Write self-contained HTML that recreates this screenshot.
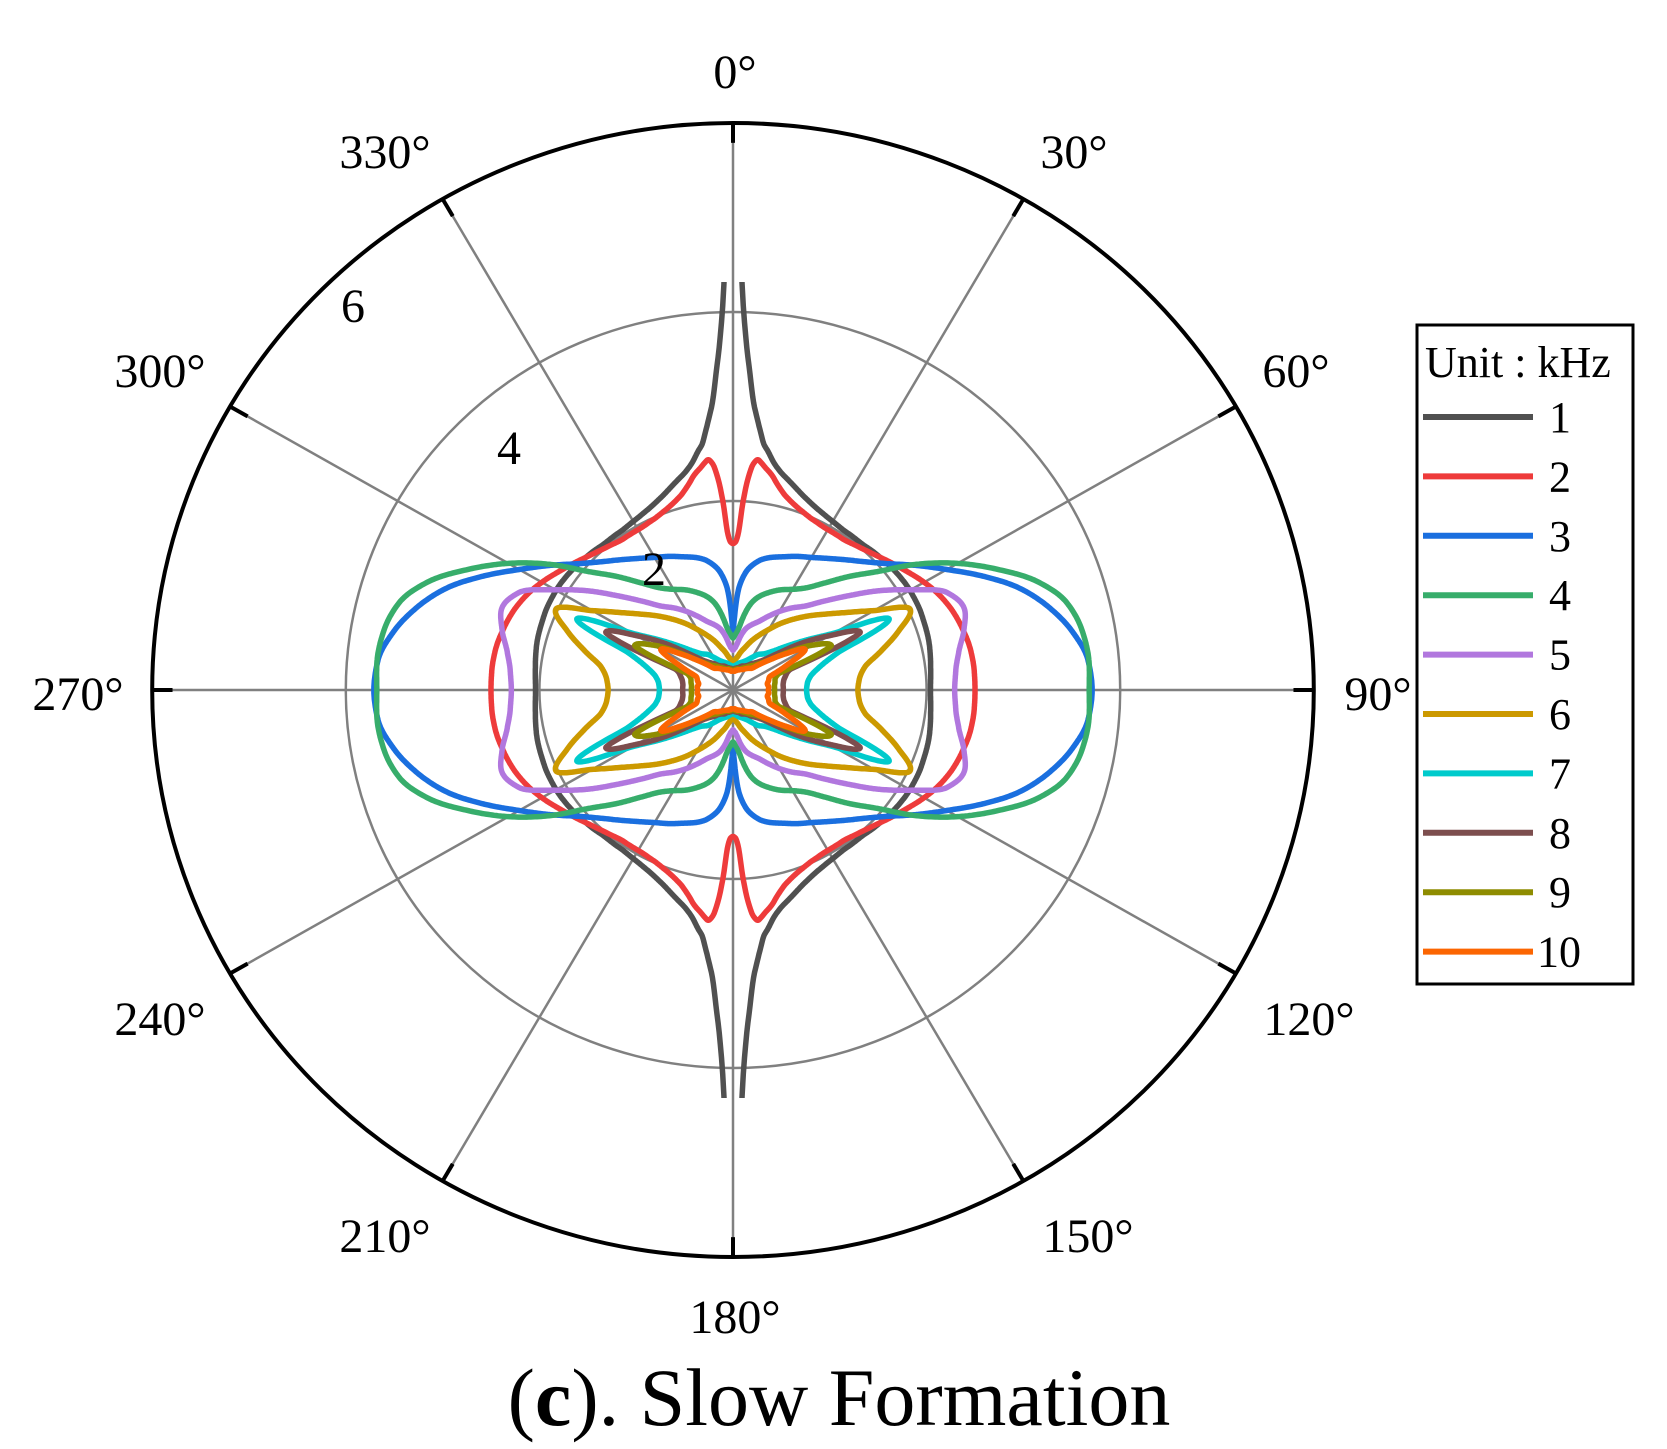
<!DOCTYPE html>
<html><head><meta charset="utf-8"><style>
html,body{margin:0;padding:0;background:#fff;overflow:hidden;width:1667px;height:1449px}
svg{display:block;font-family:"Liberation Serif",serif}
</style></head><body>
<svg id="chart" width="1667" height="1449" viewBox="0 0 1667 1449" xmlns="http://www.w3.org/2000/svg">
<defs><clipPath id="clipv"><rect x="0" y="282" width="1667" height="816"/></clipPath></defs>
<g id="grid"></g>
<g id="series" clip-path="url(#clipv)"></g>
<g id="labels" font-size="48" text-anchor="middle"></g>
<g id="legend">
<rect x="1417" y="325" width="216" height="659" fill="#fff" stroke="#000" stroke-width="3"/>
<text x="1425" y="377" font-size="44">Unit : kHz</text>
</g>
<text x="839" y="1425" font-size="82" text-anchor="middle">(<tspan font-weight="bold">c</tspan>). Slow Formation</text>
</svg>
<script>
const angles=[0,1,2,3,4,5,6,7,8,10,12,15,20,25,30,35,40,45,50,55,60,65,70,75,80,85,90];
const s1=[9,4.6,3.75,3.35,3.05,2.88,2.74,2.62,2.56,2.44,2.36,2.28,2.17,2.1,2.06,2.04,2.04,2.06,2.08,2.10,2.11,2.11,2.10,2.09,2.07,2.05,2.04];
const s2=[1.55,1.57,1.68,2.0,2.25,2.4,2.45,2.42,2.38,2.31,2.22,2.12,2.03,1.98,1.96,1.96,1.99,2.04,2.11,2.19,2.28,2.36,2.42,2.46,2.49,2.5,2.5];
const s3=[0.62,0.75,0.92,1.06,1.14,1.2,1.25,1.29,1.32,1.37,1.41,1.45,1.50,1.56,1.62,1.70,1.80,1.92,2.08,2.30,2.55,2.85,3.15,3.38,3.56,3.68,3.71];
const s4=[0.55,0.56,0.58,0.6,0.62,0.65,0.69,0.74,0.79,0.88,0.95,1.02,1.1,1.17,1.23,1.32,1.48,1.70,1.95,2.32,2.68,3.02,3.35,3.57,3.66,3.69,3.68];
const s5=[0.42,0.43,0.44,0.45,0.47,0.49,0.52,0.55,0.58,0.63,0.67,0.71,0.77,0.86,0.96,1.06,1.16,1.33,1.55,1.83,2.12,2.44,2.54,2.47,2.37,2.31,2.29];
const s6=[0.3,0.3,0.31,0.31,0.32,0.33,0.34,0.35,0.36,0.39,0.42,0.46,0.55,0.64,0.74,0.86,0.98,1.11,1.25,1.43,1.68,2.02,1.82,1.58,1.38,1.31,1.29];
const s7=[0.25,0.25,0.25,0.25,0.26,0.26,0.26,0.27,0.27,0.28,0.29,0.3,0.32,0.35,0.4,0.46,0.5,0.58,0.72,0.92,1.2,1.78,1.15,0.92,0.81,0.77,0.76];
const s8=[0.22,0.22,0.22,0.22,0.22,0.23,0.23,0.23,0.23,0.24,0.24,0.25,0.27,0.28,0.3,0.34,0.38,0.45,0.6,0.86,1.15,1.45,0.62,0.56,0.53,0.52,0.52];
const s9=[0.21,0.21,0.21,0.21,0.21,0.21,0.22,0.22,0.22,0.22,0.23,0.23,0.24,0.26,0.28,0.31,0.34,0.4,0.5,0.7,0.95,1.12,0.5,0.45,0.44,0.43,0.43];
const s10=[0.2,0.2,0.2,0.2,0.2,0.2,0.2,0.21,0.21,0.21,0.22,0.22,0.23,0.24,0.26,0.28,0.3,0.38,0.5,0.67,0.86,0.6,0.4,0.38,0.36,0.37,0.365];
const seriesNames=["1","2","3","4","5","6","7","8","9","10"];
const seriesColors=["#505050","#ee3b3b","#1a6fdf","#37ad6b","#b177de","#cc9900","#00cbcc","#7d4e4e","#8e8c00","#fb6501"];
const rTicks=[2,4];
const rTickLabels=["2","4","6"];
const angleTicks=[0,30,60,90,120,150,180,210,240,270,300,330];
const rMax=6;

const NS="http://www.w3.org/2000/svg";
const CX=733,CY=690,SX=96.8,SY=94.5;
function px(v,deg){return CX+v*SX*Math.sin(deg*Math.PI/180);}
function py(v,deg){return CY-v*SY*Math.cos(deg*Math.PI/180);}
function mk(tag,attrs,parent){const e=document.createElementNS(NS,tag);for(const k in attrs)e.setAttribute(k,attrs[k]);parent.appendChild(e);return e;}
function slope(arr,i){
  const n=arr.length;
  if(i===0||i===n-1)return 0;
  const m1=(arr[i]-arr[i-1])/(angles[i]-angles[i-1]);
  const m2=(arr[i+1]-arr[i])/(angles[i+1]-angles[i]);
  if(m1*m2<=0)return 0;
  return 2/(1/m1+1/m2);
}
function valAt(arr,deg){
  let q=((deg%360)+360)%360; if(q>180)q=360-q; if(q>90)q=180-q;
  for(let i=0;i<angles.length-1;i++){
    if(q<=angles[i+1]){
      const h=angles[i+1]-angles[i];const t=(q-angles[i])/h;
      const m0=slope(arr,i)*h,m1=slope(arr,i+1)*h;
      const t2=t*t,t3=t2*t;
      return (2*t3-3*t2+1)*arr[i]+(t3-2*t2+t)*m0+(-2*t3+3*t2)*arr[i+1]+(t3-t2)*m1;
    }
  }
  return arr[arr.length-1];
}
const grid=document.getElementById('grid');
rTicks.forEach(r=>{
  const c=mk('ellipse',{cx:CX,cy:CY,rx:r*SX,ry:r*SY,fill:'none',stroke:'#808080','stroke-width':2.5},grid);
  
  
});
angleTicks.forEach(a=>{
  const l=mk('line',{x1:CX,y1:CY,x2:px(rMax,a),y2:py(rMax,a),stroke:'#808080','stroke-width':2.5},grid);
  
  
  const t=mk('line',{x1:px(rMax,a),y1:py(rMax,a),x2:px(rMax-0.21,a),y2:py(rMax-0.21,a),stroke:'#000','stroke-width':4},grid);
  
  
});
const outer=mk('ellipse',{cx:CX,cy:CY,rx:rMax*SX,ry:rMax*SY,fill:'none',stroke:'#000','stroke-width':4},grid);



const sg=document.getElementById('series');
const all=[s1,s2,s3,s4,s5,s6,s7,s8,s9,s10];
all.forEach((arr,i)=>{
  let d='';
  for(let k=0;k<=1440;k++){const a=k*0.25;const v=valAt(arr,a);d+=(k?'L':'M')+px(v,a).toFixed(1)+' '+py(v,a).toFixed(1);}
  const p=mk('path',{d:d+'Z',fill:'none',stroke:seriesColors[i],'stroke-width':5.5,'stroke-linejoin':'round'},sg);
  
  
});

const lg=document.getElementById('labels');
const angPos=[[735,88],[1074,168],[1296,387],[1378,710],[1309,1035],[1088,1252],[735,1333],[385,1252],[160,1035],[78,710],[160,387],[385,168]];
angleTicks.forEach((a,i)=>{
  const t=mk('text',{x:angPos[i][0],y:angPos[i][1]},lg);
  t.textContent=a+'°';
  
  
});
const rPos=[[654,585],[509,464],[353,322]];
rTickLabels.forEach((s,i)=>{
  const t=mk('text',{x:rPos[i][0],y:rPos[i][1]},lg);
  t.textContent=s;
  
  
});

const leg=document.getElementById('legend');
seriesNames.forEach((n,i)=>{
  const y=417+i*59.4;
  const l=mk('line',{x1:1423,y1:y,x2:1533,y2:y,stroke:seriesColors[i],'stroke-width':6},leg);
  
  
  const t=mk('text',{x:n.length>1?1537:1549,y:y+15,'font-size':44},leg);
  t.textContent=n;
  
  
});
</script>
</body></html>
